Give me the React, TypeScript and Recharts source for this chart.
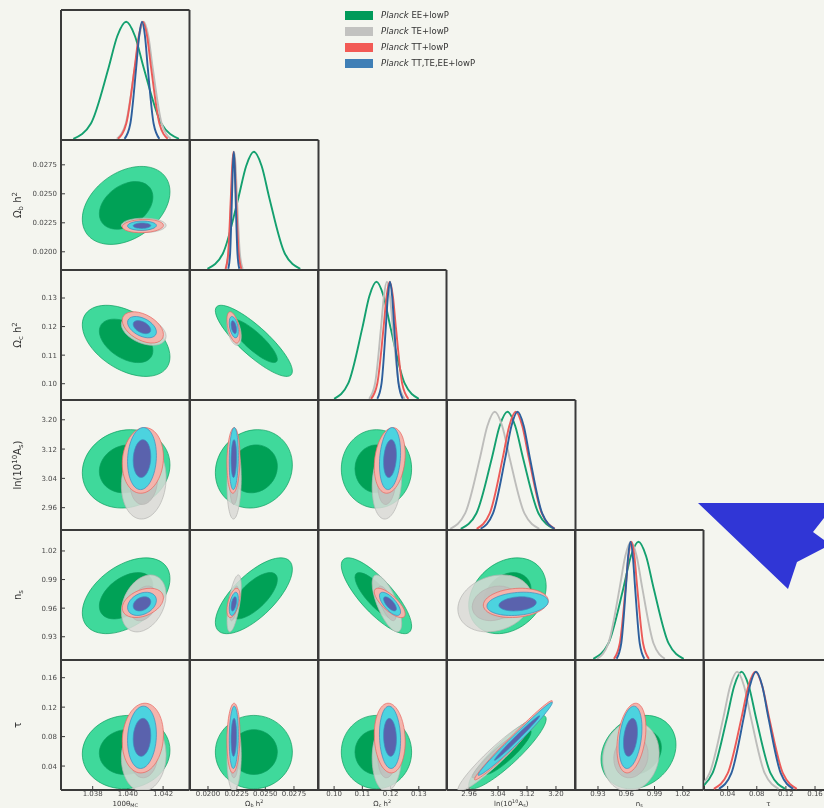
import React from "react";
import { ScatterChart, Scatter, XAxis, YAxis, Label } from "recharts";

// likelihood sets, in legend order
const SETS = ["EE+lowP", "TE+lowP", "TT+lowP", "TT,TE,EE+lowP"];

// parameters: 100θ_MC, Ω_b h², Ω_c h², ln(10^10 A_s), n_s, τ
const TICKS = [
  [1.038, 1.04, 1.042],
  [0.02, 0.0225, 0.025, 0.0275],
  [0.1, 0.11, 0.12, 0.13],
  [2.96, 3.04, 3.12, 3.2],
  [0.93, 0.96, 0.99, 1.02],
  [0.04, 0.08, 0.12, 0.16],
];
const DOMAINS = [
  [1.0362, 1.0435],
  [0.01843, 0.02964],
  [0.0943, 0.1398],
  [2.899, 3.254],
  [0.9056, 1.042],
  [0.0075, 0.184],
];
const DIGITS = [3, 4, 2, 2, 2, 2];

// 1D marginals: relative height at each sample (shared), x per set [EE, TE, TT, ALL]
const DENSITY = [0.01, 0.14, 0.61, 0.88, 1, 0.88, 0.61, 0.14, 0.01];
const THETA_1D = [
  [1.0369, 1.0379, 1.0389, 1.0394, 1.0399, 1.0404, 1.0409, 1.0419, 1.0429],
  [1.03937, 1.03988, 1.04039, 1.04065, 1.0409, 1.04116, 1.04141, 1.04192, 1.04243],
  [1.03944, 1.03991, 1.04038, 1.04062, 1.04085, 1.04109, 1.04132, 1.04179, 1.04226],
  [1.03981, 1.04014, 1.04047, 1.04064, 1.0408, 1.04097, 1.04113, 1.04146, 1.04179],
];
const OMB_1D = [
  [0.01995, 0.0213, 0.02265, 0.02333, 0.024, 0.02468, 0.02535, 0.0267, 0.02805],
  [0.02153, 0.02178, 0.02203, 0.02216, 0.02228, 0.02241, 0.02253, 0.02278, 0.02303],
  [0.02153, 0.02176, 0.02199, 0.02211, 0.02222, 0.02234, 0.02245, 0.02268, 0.02291],
  [0.02177, 0.02193, 0.02209, 0.02217, 0.02225, 0.02233, 0.02241, 0.02257, 0.02273],
];
const OMC_1D = [
  [0.1, 0.105, 0.11, 0.1125, 0.115, 0.1175, 0.12, 0.125, 0.13],
  [0.1124, 0.1145, 0.1166, 0.11765, 0.1187, 0.11975, 0.1208, 0.1229, 0.125],
  [0.1131, 0.1153, 0.1175, 0.1186, 0.1197, 0.1208, 0.1219, 0.1241, 0.1263],
  [0.1153, 0.1168, 0.1183, 0.11905, 0.1198, 0.12055, 0.1213, 0.1228, 0.1243],
];
const LNAS_1D = [
  [2.937, 2.98, 3.023, 3.0445, 3.066, 3.0875, 3.109, 3.152, 3.195],
  [2.908, 2.949, 2.99, 3.0105, 3.031, 3.0515, 3.072, 3.113, 3.154],
  [2.981, 3.017, 3.053, 3.071, 3.089, 3.107, 3.125, 3.161, 3.197],
  [2.992, 3.026, 3.06, 3.077, 3.094, 3.111, 3.128, 3.162, 3.196],
];
const NS_1D = [
  [0.925, 0.941, 0.957, 0.965, 0.973, 0.981, 0.989, 1.005, 1.021],
  [0.929, 0.941, 0.953, 0.959, 0.965, 0.971, 0.977, 0.989, 1.001],
  [0.9469, 0.9531, 0.9593, 0.9624, 0.9655, 0.9686, 0.9717, 0.9779, 0.9841],
  [0.9498, 0.9547, 0.9596, 0.96205, 0.9645, 0.96695, 0.9694, 0.9743, 0.9792],
];
const TAU_1D = [
  [-0.001, 0.019, 0.039, 0.049, 0.059, 0.069, 0.079, 0.099, 0.119],
  [-0.004, 0.015, 0.034, 0.0435, 0.053, 0.0625, 0.072, 0.091, 0.11],
  [0.021, 0.04, 0.059, 0.0685, 0.078, 0.0875, 0.097, 0.116, 0.135],
  [0.028, 0.045, 0.062, 0.0705, 0.079, 0.0875, 0.096, 0.113, 0.13],
];

// 2D contours, each row: right end, top of centre chord, left end, bottom of centre chord (x, y pairs)
// rows: EE 95%, EE 68%, TE 95%, TE 68%, TT 95%, TT 68%, ALL 95%, ALL 68%
const THETA_OMB = [
  [1.04239, 0.02518, 1.0399, 0.02715, 1.03741, 0.02282, 1.0399, 0.02085],
  [1.04142, 0.02472, 1.0399, 0.02592, 1.03838, 0.02328, 1.0399, 0.02208],
  [1.04217, 0.02228, 1.0409, 0.0229, 1.03963, 0.02228, 1.0409, 0.02166],
  [1.04168, 0.02228, 1.0409, 0.02266, 1.04013, 0.02228, 1.0409, 0.0219],
  [1.04202, 0.02228, 1.04085, 0.02279, 1.03968, 0.02216, 1.04085, 0.02165],
  [1.04156, 0.02226, 1.04085, 0.02257, 1.04014, 0.02219, 1.04085, 0.02187],
  [1.04162, 0.02227, 1.0408, 0.02265, 1.03998, 0.02223, 1.0408, 0.02185],
  [1.0413, 0.02226, 1.0408, 0.02249, 1.0403, 0.02224, 1.0408, 0.02201],
];
const THETA_OMC = [
  [1.04239, 0.1094, 1.0399, 0.12612, 1.03741, 0.1206, 1.0399, 0.10388],
  [1.04142, 0.11158, 1.0399, 0.12179, 1.03838, 0.11842, 1.0399, 0.10821],
  [1.04217, 0.11661, 1.0409, 0.1235, 1.03963, 0.12079, 1.0409, 0.1139],
  [1.04168, 0.11742, 1.0409, 0.12163, 1.04013, 0.11998, 1.0409, 0.11577],
  [1.04202, 0.11723, 1.04085, 0.12459, 1.03968, 0.12217, 1.04085, 0.11481],
  [1.04156, 0.1182, 1.04085, 0.12268, 1.04014, 0.1212, 1.04085, 0.11672],
  [1.04162, 0.11812, 1.0408, 0.12314, 1.03998, 0.12148, 1.0408, 0.11646],
  [1.0413, 0.11877, 1.0408, 0.12184, 1.0403, 0.12083, 1.0408, 0.11776],
];
const OMB_OMC = [
  [0.02736, 0.10442, 0.024, 0.12156, 0.02064, 0.12558, 0.024, 0.10844],
  [0.02605, 0.10854, 0.024, 0.119, 0.02195, 0.12146, 0.024, 0.111],
  [0.0229, 0.11661, 0.02228, 0.1235, 0.02166, 0.12079, 0.02228, 0.1139],
  [0.02266, 0.11742, 0.02228, 0.12163, 0.0219, 0.11998, 0.02228, 0.11577],
  [0.02279, 0.11696, 0.02222, 0.12445, 0.02165, 0.12244, 0.02222, 0.11495],
  [0.02257, 0.11803, 0.02222, 0.12259, 0.02187, 0.12137, 0.02222, 0.11681],
  [0.02265, 0.1183, 0.02225, 0.12323, 0.02185, 0.1213, 0.02225, 0.11637],
  [0.02249, 0.11889, 0.02225, 0.12189, 0.02201, 0.12071, 0.02225, 0.11771],
];
const THETA_LNAS = [
  [1.04239, 3.0767, 1.0399, 3.1725, 1.03741, 3.0553, 1.0399, 2.9595],
  [1.04142, 3.0725, 1.0399, 3.1311, 1.03838, 3.0595, 1.0399, 3.0009],
  [1.04217, 3.0412, 1.0409, 3.1325, 1.03963, 3.0208, 1.0409, 2.9295],
  [1.04168, 3.0372, 1.0409, 3.093, 1.04013, 3.0248, 1.0409, 2.969],
  [1.04202, 3.098, 1.04085, 3.1782, 1.03968, 3.08, 1.04085, 2.9998],
  [1.04156, 3.0945, 1.04085, 3.1434, 1.04014, 3.0835, 1.04085, 3.0346],
  [1.04162, 3.1025, 1.0408, 3.1783, 1.03998, 3.0855, 1.0408, 3.0097],
  [1.0413, 3.0992, 1.0408, 3.1454, 1.0403, 3.0888, 1.0408, 3.0426],
];
const OMB_LNAS = [
  [0.02736, 3.0767, 0.024, 3.1725, 0.02064, 3.0553, 0.024, 2.9595],
  [0.02605, 3.0725, 0.024, 3.1311, 0.02195, 3.0595, 0.024, 3.0009],
  [0.0229, 3.0412, 0.02228, 3.1325, 0.02166, 3.0208, 0.02228, 2.9295],
  [0.02266, 3.0372, 0.02228, 3.093, 0.0219, 3.0248, 0.02228, 2.969],
  [0.02279, 3.098, 0.02222, 3.1782, 0.02165, 3.08, 0.02222, 2.9998],
  [0.02257, 3.0945, 0.02222, 3.1434, 0.02187, 3.0835, 0.02222, 3.0346],
  [0.02265, 3.1025, 0.02225, 3.1783, 0.02185, 3.0855, 0.02225, 3.0097],
  [0.02249, 3.0992, 0.02225, 3.1454, 0.02201, 3.0888, 0.02225, 3.0426],
];
const OMC_LNAS = [
  [0.12745, 3.066, 0.115, 3.173, 0.10255, 3.066, 0.115, 2.959],
  [0.1226, 3.066, 0.115, 3.1314, 0.1074, 3.066, 0.115, 3.0006],
  [0.12393, 3.0463, 0.1187, 3.1319, 0.11347, 3.0157, 0.1187, 2.9301],
  [0.12189, 3.0403, 0.1187, 3.0926, 0.11551, 3.0217, 0.1187, 2.9694],
  [0.12518, 3.1069, 0.1197, 3.1768, 0.11422, 3.0711, 0.1197, 3.0012],
  [0.12304, 3.0999, 0.1197, 3.1426, 0.11636, 3.0781, 0.1197, 3.0354],
  [0.12354, 3.1109, 0.1198, 3.177, 0.11606, 3.0771, 0.1198, 3.011],
  [0.12208, 3.1043, 0.1198, 3.1447, 0.11752, 3.0837, 0.1198, 3.0433],
];
const THETA_NS = [
  [1.04239, 0.9909, 1.0399, 1.0085, 1.03741, 0.9551, 1.0399, 0.9375],
  [1.04142, 0.9839, 1.0399, 0.9947, 1.03838, 0.9621, 1.0399, 0.9513],
  [1.04217, 0.974, 1.0409, 0.9935, 1.03963, 0.956, 1.0409, 0.9365],
  [1.04168, 0.9705, 1.0409, 0.9824, 1.04013, 0.9595, 1.0409, 0.9476],
  [1.04202, 0.9709, 1.04085, 0.9799, 1.03968, 0.9601, 1.04085, 0.9511],
  [1.04156, 0.9688, 1.04085, 0.9743, 1.04014, 0.9622, 1.04085, 0.9567],
  [1.04162, 0.9682, 1.0408, 0.9761, 1.03998, 0.9608, 1.0408, 0.9529],
  [1.0413, 0.9667, 1.0408, 0.9716, 1.0403, 0.9623, 1.0408, 0.9574],
];
const OMB_NS = [
  [0.02736, 1.0009, 0.024, 1.0014, 0.02064, 0.9451, 0.024, 0.9446],
  [0.02605, 0.99, 0.024, 0.9904, 0.02195, 0.956, 0.024, 0.9556],
  [0.0229, 0.9829, 0.02228, 0.9889, 0.02166, 0.9471, 0.02228, 0.9411],
  [0.02266, 0.9759, 0.02228, 0.9796, 0.0219, 0.9541, 0.02228, 0.9504],
  [0.02279, 0.9732, 0.02222, 0.9788, 0.02165, 0.9578, 0.02222, 0.9522],
  [0.02257, 0.9702, 0.02222, 0.9737, 0.02187, 0.9608, 0.02222, 0.9573],
  [0.02265, 0.97, 0.02225, 0.9754, 0.02185, 0.959, 0.02225, 0.9536],
  [0.02249, 0.9679, 0.02225, 0.9712, 0.02201, 0.9611, 0.02225, 0.9578],
];
const OMC_NS = [
  [0.12745, 0.9412, 0.115, 0.9969, 0.10255, 1.0048, 0.115, 0.9491],
  [0.1226, 0.9536, 0.115, 0.9876, 0.1074, 0.9924, 0.115, 0.9584],
  [0.12393, 0.9441, 0.1187, 0.9863, 0.11347, 0.9859, 0.1187, 0.9437],
  [0.12189, 0.9523, 0.1187, 0.978, 0.11551, 0.9777, 0.1187, 0.952],
  [0.12518, 0.9539, 0.1197, 0.9757, 0.11422, 0.9771, 0.1197, 0.9553],
  [0.12304, 0.9584, 0.1197, 0.9717, 0.11636, 0.9726, 0.1197, 0.9593],
  [0.12354, 0.956, 0.1198, 0.9732, 0.11606, 0.973, 0.1198, 0.9558],
  [0.12208, 0.9593, 0.1198, 0.9698, 0.11752, 0.9697, 0.1198, 0.9592],
];
const LNAS_NS = [
  [3.173, 0.983, 3.066, 1.0115, 2.959, 0.963, 3.066, 0.9345],
  [3.1314, 0.9791, 3.066, 0.9965, 3.0006, 0.9669, 3.066, 0.9495],
  [3.133, 0.971, 3.031, 0.9943, 2.929, 0.959, 3.031, 0.9357],
  [3.0933, 0.9686, 3.031, 0.9828, 2.9687, 0.9614, 3.031, 0.9472],
  [3.1786, 0.9678, 3.089, 0.9807, 2.9994, 0.9632, 3.089, 0.9503],
  [3.1437, 0.9669, 3.089, 0.9748, 3.0343, 0.9641, 3.089, 0.9562],
  [3.1787, 0.9669, 3.094, 0.9765, 3.0093, 0.9621, 3.094, 0.9525],
  [3.1457, 0.966, 3.094, 0.9718, 3.0423, 0.963, 3.094, 0.9572],
];
const THETA_TAU = [
  [1.04239, 0.0615, 1.0399, 0.1087, 1.03741, 0.0565, 1.0399, 0.0093],
  [1.04142, 0.0605, 1.0399, 0.0894, 1.03838, 0.0575, 1.0399, 0.0286],
  [1.04217, 0.0554, 1.0409, 0.1002, 1.03963, 0.0506, 1.0409, 0.0058],
  [1.04168, 0.0544, 1.0409, 0.0819, 1.04013, 0.0516, 1.0409, 0.0241],
  [1.04202, 0.0827, 1.04085, 0.1251, 1.03968, 0.0733, 1.04085, 0.0309],
  [1.04156, 0.0809, 1.04085, 0.1068, 1.04014, 0.0751, 1.04085, 0.0492],
  [1.04162, 0.0832, 1.0408, 0.1211, 1.03998, 0.0748, 1.0408, 0.0369],
  [1.0413, 0.0816, 1.0408, 0.1047, 1.0403, 0.0764, 1.0408, 0.0533],
];
const OMB_TAU = [
  [0.02736, 0.059, 0.024, 0.1088, 0.02064, 0.059, 0.024, 0.0092],
  [0.02605, 0.059, 0.024, 0.0894, 0.02195, 0.059, 0.024, 0.0286],
  [0.0229, 0.0554, 0.02228, 0.1002, 0.02166, 0.0506, 0.02228, 0.0058],
  [0.02266, 0.0544, 0.02228, 0.0819, 0.0219, 0.0516, 0.02228, 0.0241],
  [0.02279, 0.0827, 0.02222, 0.1251, 0.02165, 0.0733, 0.02222, 0.0309],
  [0.02257, 0.0809, 0.02222, 0.1068, 0.02187, 0.0751, 0.02222, 0.0492],
  [0.02265, 0.0832, 0.02225, 0.1211, 0.02185, 0.0748, 0.02225, 0.0369],
  [0.02249, 0.0816, 0.02225, 0.1047, 0.02201, 0.0764, 0.02225, 0.0533],
];
const OMC_TAU = [
  [0.12745, 0.059, 0.115, 0.1088, 0.10255, 0.059, 0.115, 0.0092],
  [0.1226, 0.059, 0.115, 0.0894, 0.1074, 0.059, 0.115, 0.0286],
  [0.12393, 0.0554, 0.1187, 0.1002, 0.11347, 0.0506, 0.1187, 0.0058],
  [0.12189, 0.0544, 0.1187, 0.0819, 0.11551, 0.0516, 0.1187, 0.0241],
  [0.12518, 0.0733, 0.1197, 0.1251, 0.11422, 0.0827, 0.1197, 0.0309],
  [0.12304, 0.0751, 0.1197, 0.1068, 0.11636, 0.0809, 0.1197, 0.0492],
  [0.12354, 0.0748, 0.1198, 0.1211, 0.11606, 0.0832, 0.1198, 0.0369],
  [0.12208, 0.0764, 0.1198, 0.1047, 0.11752, 0.0816, 0.1198, 0.0533],
];
const LNAS_TAU = [
  [3.173, 0.1038, 3.066, 0.0807, 2.959, 0.0142, 3.066, 0.0373],
  [3.1314, 0.0864, 3.066, 0.0723, 3.0006, 0.0316, 3.066, 0.0457],
  [3.133, 0.0979, 3.031, 0.0678, 2.929, 0.0081, 3.031, 0.0382],
  [3.0933, 0.0805, 3.031, 0.062, 2.9687, 0.0255, 3.031, 0.044],
  [3.19, 0.128, 3.085, 0.0845, 2.975, 0.022, 3.085, 0.0655],
  [3.155, 0.11, 3.088, 0.0815, 3.02, 0.044, 3.088, 0.0725],
  [3.19, 0.126, 3.09, 0.0845, 2.985, 0.028, 3.09, 0.0685],
  [3.155, 0.108, 3.092, 0.082, 3.03, 0.048, 3.092, 0.074],
];
const NS_TAU = [
  [1.0128, 0.069, 0.973, 0.1078, 0.9332, 0.049, 0.973, 0.0102],
  [0.9973, 0.0651, 0.973, 0.0888, 0.9487, 0.0529, 0.973, 0.0292],
  [0.9949, 0.0577, 0.965, 0.1001, 0.9351, 0.0483, 0.965, 0.0059],
  [0.9832, 0.0559, 0.965, 0.0818, 0.9468, 0.0501, 0.965, 0.0242],
  [0.9809, 0.0922, 0.9655, 0.1231, 0.9501, 0.0638, 0.9655, 0.0329],
  [0.9749, 0.0867, 0.9655, 0.1056, 0.9561, 0.0693, 0.9655, 0.0504],
  [0.9767, 0.0917, 0.9645, 0.1194, 0.9523, 0.0663, 0.9645, 0.0386],
  [0.97195, 0.0867, 0.9645, 0.1036, 0.95705, 0.0713, 0.9645, 0.0544],
];

const PAIRS: Record<string, number[][]> = {
  "1-0": THETA_OMB, "2-0": THETA_OMC, "2-1": OMB_OMC,
  "3-0": THETA_LNAS, "3-1": OMB_LNAS, "3-2": OMC_LNAS,
  "4-0": THETA_NS, "4-1": OMB_NS, "4-2": OMC_NS, "4-3": LNAS_NS,
  "5-0": THETA_TAU, "5-1": OMB_TAU, "5-2": OMC_TAU, "5-3": LNAS_TAU, "5-4": NS_TAU,
};
const MARGINALS = [THETA_1D, OMB_1D, OMC_1D, LNAS_1D, NS_1D, TAU_1D];

// axis names as [text, shift] pieces
const NAMES: [string, string][][] = [
  [["100θ", ""], ["MC", "sub"]],
  [["Ω", ""], ["b", "sub"], [" h", ""], ["2", "super"]],
  [["Ω", ""], ["c", "sub"], [" h", ""], ["2", "super"]],
  [["ln(10", ""], ["10", "super"], ["A", ""], ["s", "sub"], [")", ""]],
  [["n", ""], ["s", "sub"]],
  [["τ", ""]],
];

const FILL = [
  ["#3fd99b", "#00a156"],
  ["#d9d9d6", "#c0c0bd"],
  ["#f4b4ac", "#ef7c75"],
  ["#4cd3df", "#5a62ad"],
];
const EDGE = ["#0b9d5f", "#b4b4b1", "#e9635d", "#3d8dbd"];
const LINE = ["#14a06f", "#bdbdbb", "#ec5a58", "#2d5f9d"];
const SWATCH = ["#009a5a", "#c2c2c0", "#f25a55", "#3f7fb6"];

const BG = "#f4f5ef";
const INK = "#3a3a3a";
const COL_X = [61, 189.5, 318, 446.5, 575, 703.5];
const ROW_Y = [10, 140, 270, 400, 530, 660];
const W = 128.5;
const H = 130;
const AXIS_W = 61;
const AXIS_H = 30;

const toPts = (f: number[]) => [0, 2, 4, 6].map((i) => ({ x: f[i], y: f[i + 1] }));

// closed spline through the four conjugate points of a contour
function closedPath(pts: { x: number; y: number }[]) {
  const n = pts.length;
  const k = 0.276;
  let d = `M${pts[0].x},${pts[0].y}`;
  for (let i = 0; i < n; i++) {
    const p0 = pts[(i - 1 + n) % n], p1 = pts[i], p2 = pts[(i + 1) % n], p3 = pts[(i + 2) % n];
    d += `C${p1.x + (p2.x - p0.x) * k},${p1.y + (p2.y - p0.y) * k} ${p2.x - (p3.x - p1.x) * k},${p2.y - (p3.y - p1.y) * k} ${p2.x},${p2.y}`;
  }
  return d + "Z";
}

const noDot = () => <g />;

const nameText = (idx: number, x: number, y: number, rotate: boolean, size: number, sub: number) => (
  <text
    x={x}
    y={y}
    transform={rotate ? `rotate(-90 ${x} ${y})` : undefined}
    textAnchor="middle"
    fontSize={size}
    fontFamily="DejaVu Sans"
    fill="#333"
  >
    {NAMES[idx].map(([t, s], i) => (
      <tspan
        key={i}
        baselineShift={s === "sub" ? -sub : s === "super" ? size * 0.4 : undefined}
        fontSize={s ? size * 0.7 : size}
      >
        {t}
      </tspan>
    ))}
  </text>
);

// tick marks that cross the frame: shift a tick by part of its length
const tickStyle = (dx: number, dy: number) => ({
  stroke: INK,
  strokeWidth: 1,
  transform: dx || dy ? `translate(${dx},${dy})` : undefined,
});

function Panel({ row, col }: { row: number; col: number }) {
  const diag = row === col;
  const left = col === 0 && row > 0 ? AXIS_W : 0;
  const bottom = row === 5 ? AXIS_H : 0;
  const xDom = DOMAINS[col];
  const yDom = diag ? [0, 1.1] : DOMAINS[row];
  const yTicks = diag ? [] : TICKS[row];
  const tickFont = { fontSize: 7, fill: "#4a4a4a", fontFamily: "DejaVu Sans" };
  const common = {
    type: "number" as const,
    allowDataOverflow: true,
    interval: 0 as const,
    axisLine: { stroke: INK, strokeWidth: 2 },
  };
  const contours = diag ? [] : PAIRS[`${row}-${col}`];
  const first = diag ? [] : toPts(contours[0]);

  return (
    <div style={{ position: "absolute", left: COL_X[col] - left, top: ROW_Y[row] }}>
      <ScatterChart width={W + left} height={H + bottom} margin={{ top: 0, right: 0, bottom: 0, left: 0 }}>
        <XAxis
          {...common}
          xAxisId="b"
          dataKey="x"
          orientation="bottom"
          domain={xDom}
          ticks={TICKS[col]}
          mirror={row !== 5}
          height={bottom || 30}
          tickSize={row === 5 ? 4 : 8}
          tickLine={row === 5 ? tickStyle(0, -4) : tickStyle(0, 4)}
          tick={row === 5 ? tickFont : false}
          tickMargin={-3}
          tickFormatter={(v: number) => v.toFixed(DIGITS[col])}
        >
          {row === 5 && (
            <Label content={(p: any) => nameText(col, p.viewBox.x + p.viewBox.width / 2, p.viewBox.y + 16, false, 7, 1)} />
          )}
        </XAxis>
        <XAxis
          {...common}
          xAxisId="t"
          dataKey="x"
          orientation="top"
          domain={xDom}
          ticks={TICKS[col]}
          mirror
          tickSize={diag ? 4 : 8}
          tickLine={tickStyle(0, diag ? 0 : -4)}
          tick={false}
        />
        <YAxis
          {...common}
          yAxisId="l"
          dataKey="y"
          orientation="left"
          domain={yDom}
          ticks={yTicks}
          mirror={left === 0}
          width={left || 60}
          tickSize={left ? 4 : 8}
          tickLine={left ? tickStyle(4, 0) : tickStyle(-4, 0)}
          tick={left ? tickFont : false}
          tickMargin={0}
          tickFormatter={(v: number) => v.toFixed(DIGITS[row])}
        >
          {left > 0 && (
            <Label content={(p: any) => nameText(row, p.viewBox.x + 21, p.viewBox.y + p.viewBox.height / 2, true, 10, 2)} />
          )}
        </YAxis>
        <YAxis
          {...common}
          yAxisId="r"
          dataKey="y"
          orientation="right"
          domain={yDom}
          ticks={yTicks}
          mirror
          tickSize={8}
          tickLine={tickStyle(4, 0)}
          tick={false}
        />

        {diag &&
          MARGINALS[col].map((xs, s) => (
            <Scatter
              key={`m${s}`}
              xAxisId="b"
              yAxisId="l"
              data={xs.map((x, i) => ({ x, y: DENSITY[i] }))}
              line={{ stroke: LINE[s], strokeWidth: 1.9 }}
              lineJointType="monotoneX"
              shape={noDot}
              isAnimationActive={false}
            />
          ))}

        {!diag &&
          contours.map((flat, c) => {
            const s = Math.floor(c / 2);
            const fill = FILL[s][c % 2];
            return (
              <Scatter
                key={`c${c}`}
                xAxisId="b"
                yAxisId="l"
                data={toPts(flat)}
                line={(p: any) => (
                  <path
                    d={closedPath(p.points)}
                    fill={fill}
                    fillOpacity={s === 1 ? 0.85 : 1}
                    stroke={EDGE[s]}
                    strokeWidth={0.7}
                  />
                )}
                shape={noDot}
                isAnimationActive={false}
              />
            );
          })}

        <Scatter
          xAxisId="t"
          yAxisId="r"
          data={diag ? MARGINALS[col][0].map((x, i) => ({ x, y: DENSITY[i] })) : first}
          shape={noDot}
          isAnimationActive={false}
        />
      </ScatterChart>
    </div>
  );
}

export default function App() {
  const cells: { row: number; col: number }[] = [];
  for (let r = 0; r < 6; r++) for (let c = 0; c <= r; c++) cells.push({ row: r, col: c });

  return (
    <div
      style={{
        position: "fixed",
        left: 0,
        top: 0,
        width: 824,
        height: 808,
        overflow: "hidden",
        background: BG,
      }}
    >
      <style>{`.recharts-surface{overflow:visible}`}</style>
      <div style={{ position: "absolute", inset: 0, filter: "blur(0.5px)" }}>
        {cells.map((c) => (
          <Panel key={`${c.row}-${c.col}`} row={c.row} col={c.col} />
        ))}

        <div
          style={{
            position: "absolute",
            left: 345,
            top: 7,
            fontFamily: "DejaVu Sans",
            fontSize: 8.5,
            color: "#333",
          }}
        >
          {SETS.map((s, i) => (
            <div key={s} style={{ display: "flex", alignItems: "center", height: 16 }}>
              <span style={{ width: 28, height: 9, background: SWATCH[i], marginRight: 8, display: "inline-block" }} />
              <span>
                <i>Planck</i> {s}
              </span>
            </div>
          ))}
        </div>

        <svg width={824} height={808} style={{ position: "absolute", left: 0, top: 0 }}>
          <polygon
            points="698,503 824,503 824,518 813,532 824,540 824,548 797,562 788,589"
            fill="#3036d6"
          />
        </svg>
      </div>
    </div>
  );
}
